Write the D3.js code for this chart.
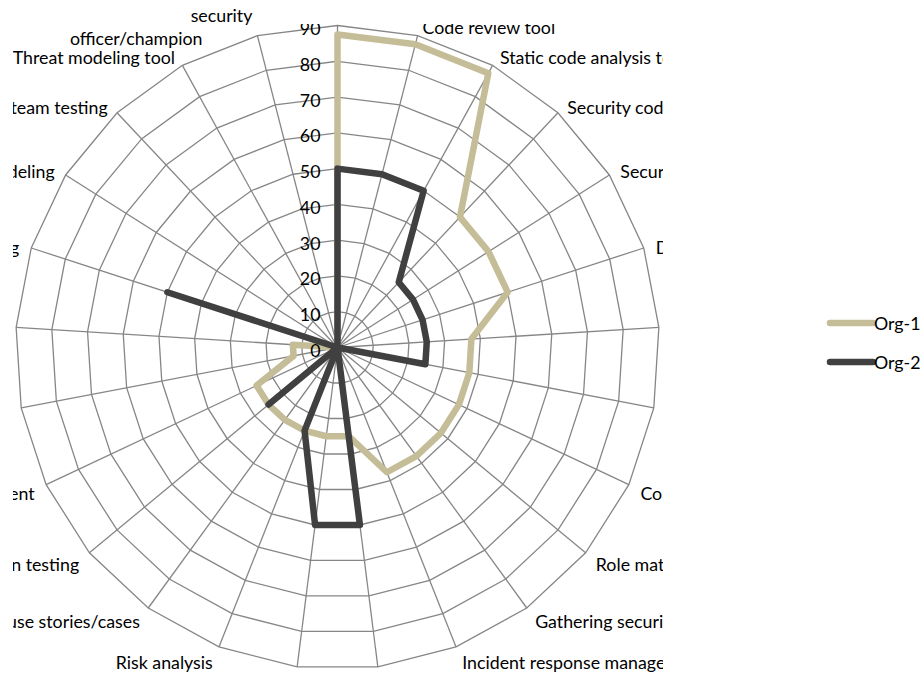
<!DOCTYPE html>
<html>
<head>
<meta charset="utf-8">
<script src="https://cdn.jsdelivr.net/npm/d3@7"></script>
<style>
  body { margin: 0; background: #fff; }
  svg { display: block; }
  text { font-family: Lato, "Open Sans", sans-serif; font-size: 17.8px; fill: #000; }
</style>
</head>
<body>
<svg id="chart" width="923" height="675"></svg>
<script>
// Practice areas, clockwise from the top spoke ("\n" breaks a label into lines)
const categories = [
  "Attack surface",
  "Code review tool",
  "Static code analysis tool",
  "Security code review",
  "Security testing",
  "Dynamic analysis tool",
  "Architecture review",
  "Coding standards",
  "Compliance management",
  "Role matrix",
  "Gathering security requirements",
  "Incident response management",
  "Security training",
  "Design review",
  "Risk analysis",
  "Abuse stories/cases",
  "Penetration testing",
  "Security assessment",
  "Code signing",
  "Architecture analysis",
  "Fuzz testing",
  "Threat modeling",
  "Red team testing",
  "Threat modeling tool",
  "security\nofficer/champion"
];

const seriesNames  = ["Org-1", "Org-2"];
const org1Values = [87.5, 87.5, 87.5, 50, 50, 50, 37.5, 37.5, 37.5, 37.5, 37.5, 37.5,
                    25, 25, 25, 25, 25, 25, 12.5, 12.5, 0, 0, 0, 0, 0];
const org2Values = [50, 50, 50, 25, 25, 25, 25, 25, 0, 0, 0, 0,
                    50, 50, 25, 0, 25, 0, 0, 0, 50, 0, 0, 0, 0];
const tickValues = [0, 10, 20, 30, 40, 50, 60, 70, 80, 90];

const seriesColors = ["#C4BD97", "#404040"];

const svg = d3.select("#chart");
const cx = 337.5, cy = 347.5, R = 322;
const n = categories.length;

const r = d3.scaleLinear().domain([0, 90]).range([0, R]);
const angle = d3.scaleLinear().domain([0, n]).range([0, 2 * Math.PI]);

// Visible window for the text around the plot
const defs = svg.append("defs");
defs.append("clipPath").attr("id", "textClip")
  .append("path").attr("d", "M13,0H262V24H663V675H13Z");

const plot = svg.append("g").attr("transform", `translate(${cx},${cy})`);

// Polygon rings
const ring = d3.lineRadial()
  .angle((d, i) => angle(i))
  .radius(d => r(d))
  .curve(d3.curveLinearClosed);

plot.append("g").selectAll("path")
  .data(tickValues.filter(v => v > 0))
  .join("path")
  .attr("d", v => ring(d3.range(n).map(() => v)))
  .attr("fill", "none")
  .attr("stroke", "#868686")
  .attr("stroke-width", 1.3);

// Spokes
plot.append("g").selectAll("line")
  .data(d3.range(n))
  .join("line")
  .attr("x1", 0).attr("y1", 0)
  .attr("x2", i => r(90) * Math.sin(angle(i)))
  .attr("y2", i => -r(90) * Math.cos(angle(i)))
  .attr("stroke", "#868686")
  .attr("stroke-width", 1.3);

// Series outlines
const seriesData = [org1Values, org2Values];
plot.append("g").selectAll("path")
  .data(seriesData)
  .join("path")
  .attr("d", d => ring(d))
  .attr("fill", "none")
  .attr("stroke", (d, k) => seriesColors[k])
  .attr("stroke-width", 6.5)
  .attr("stroke-linejoin", "round");

const textLayer = svg.append("g").attr("clip-path", "url(#textClip)");

// Value axis labels along the top spoke
textLayer.append("g").selectAll("text")
  .data(tickValues)
  .join("text")
  .attr("x", cx - 17)
  .attr("y", v => cy - r(v) + 2.5)
  .attr("text-anchor", "end")
  .attr("dominant-baseline", "central")
  .text(v => v);

// Category labels outside the outer ring
const lineGap = 22.8;
const lineNudge = { 24: [0, -50] };
textLayer.append("g").selectAll("text")
  .data(categories)
  .join("text")
  .each(function (name, i) {
    const a = angle(i), s = Math.sin(a), c = Math.cos(a);
    const side = Math.abs(s) < 0.05 ? 0 : Math.sign(s);
    const x = cx + (R + 10) * s + 2.5 * side;
    const y = cy - (R + 10) * c + 3 - 2.5 * c;
    const lines = name.split("\n");
    const t = d3.select(this)
      .attr("text-anchor", side > 0 ? "start" : side < 0 ? "end" : "middle")
      .attr("dominant-baseline", "central");
    lines.forEach((ln, k) => {
      const dx = (lineNudge[i] || [])[k] || 0;
      t.append("tspan")
        .attr("x", x + dx)
        .attr("y", y + (k - (lines.length - 1) / 2) * lineGap)
        .text(ln);
    });
  });

// Legend
const legend = svg.append("g").selectAll("g")
  .data(seriesNames)
  .join("g")
  .attr("transform", (d, k) => `translate(830,${323 + k * 39})`);
legend.append("line")
  .attr("x1", 0).attr("x2", 43).attr("y1", 0).attr("y2", 0)
  .attr("stroke", (d, k) => seriesColors[k])
  .attr("stroke-width", 6.5)
  .attr("stroke-linecap", "round");
legend.append("text")
  .attr("x", 44).attr("y", 0)
  .attr("dominant-baseline", "central")
  .text(d => d);
</script>
</body>
</html>
